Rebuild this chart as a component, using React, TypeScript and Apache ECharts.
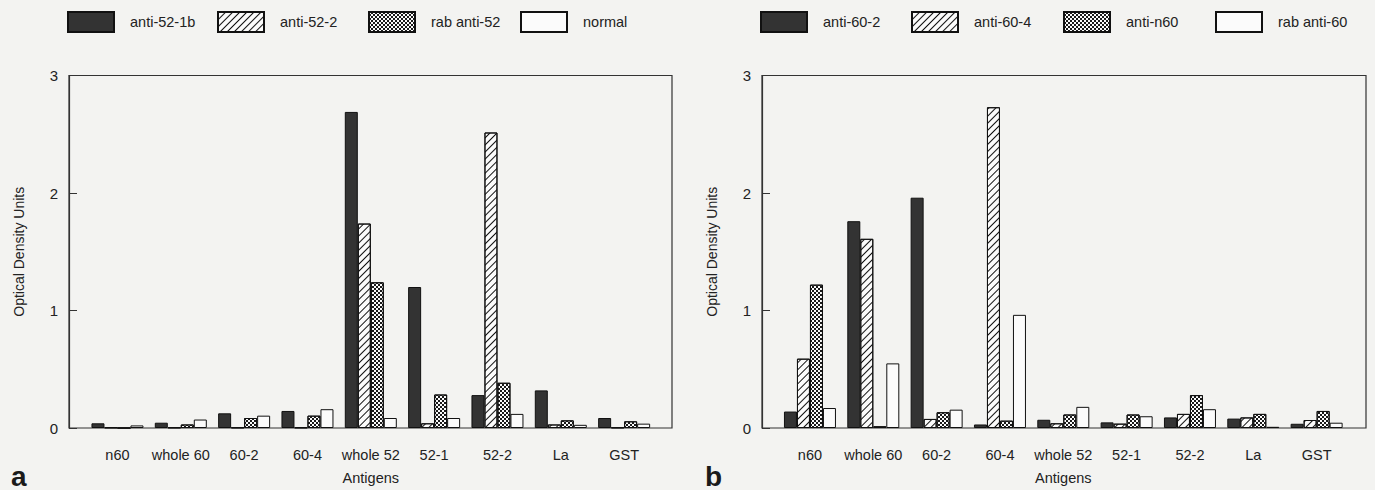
import React, { useEffect, useRef } from "react";
import * as echarts from "echarts";

const categories = ["n60", "whole 60", "60-2", "60-4", "whole 52", "52-1", "52-2", "La", "GST"];
const yTicks = [0, 1, 2, 3];

// panel a
const leftNames = ["anti-52-1b", "anti-52-2", "rab anti-52", "normal"];
const anti521b = [0.04, 0.045, 0.125, 0.145, 2.69, 1.2, 0.28, 0.32, 0.085];
const anti522 = [0.005, 0.005, 0.005, 0.005, 1.74, 0.04, 2.515, 0.03, 0.005];
const rabAnti52 = [0, 0.03, 0.085, 0.105, 1.24, 0.285, 0.385, 0.065, 0.057];
const normal = [0.022, 0.072, 0.105, 0.16, 0.085, 0.085, 0.12, 0.027, 0.037];

// panel b
const rightNames = ["anti-60-2", "anti-60-4", "anti-n60", "rab anti-60"];
const anti602 = [0.14, 1.76, 1.96, 0.03, 0.07, 0.048, 0.09, 0.08, 0.036];
const anti604 = [0.59, 1.61, 0.077, 2.73, 0.04, 0.037, 0.12, 0.09, 0.068];
const antiN60 = [1.22, 0.015, 0.134, 0.0625, 0.115, 0.115, 0.28, 0.12, 0.145];
const rabAnti60 = [0.17, 0.55, 0.156, 0.963, 0.18, 0.1, 0.16, 0.01, 0.045];

const FONT = "'Liberation Sans', Arial, sans-serif";
const INK = "#222222";
const BG = "#f3f3f1";

const styles = [
  { color: "#333333", borderColor: "#111", borderWidth: 1 },
  {
    color: "#fbfbfb",
    borderColor: "#111",
    borderWidth: 1,
    decal: {
      symbol: "rect",
      symbolSize: 1,
      color: "#111",
      dashArrayX: [1, 0],
      dashArrayY: [0.9, 3.1],
      rotation: -Math.PI / 4,
    },
  },
  {
    color: "#fbfbfb",
    borderColor: "#111",
    borderWidth: 1,
    decal: {
      symbol: "rect",
      symbolSize: 1,
      color: "#1a1a1a",
      dashArrayX: [
        [2, 2],
        [0, 2, 2, 0],
      ],
      dashArrayY: [2, 0],
      rotation: 0,
    },
  },
  { color: "#fbfbfb", borderColor: "#111", borderWidth: 1 },
];

export default function App() {
  const ref = useRef<HTMLDivElement>(null);

  useEffect(() => {
    document.body.style.margin = "0";
    const chart = echarts.init(ref.current!, undefined, { renderer: "svg" });

    const top = 75.5;
    const height = 352.5;
    const panels = [
      {
        frameLeft: 69,
        frameWidth: 603,
        barLeft: 85.8,
        names: leftNames,
        data: [anti521b, anti522, rabAnti52, normal],
        legendLefts: [67, 217, 368, 520],
      },
      {
        frameLeft: 762,
        frameWidth: 604,
        barLeft: 778.3,
        names: rightNames,
        data: [anti602, anti604, antiN60, rabAnti60],
        legendLefts: [760, 911, 1063, 1215],
      },
    ];

    const grid: any[] = [];
    const xAxis: any[] = [];
    const yAxis: any[] = [];
    const series: any[] = [];
    const legend: any[] = [];

    panels.forEach((p) => {
      const gFrame = grid.length;
      grid.push({
        left: p.frameLeft,
        top,
        width: p.frameWidth,
        height,
        show: true,
        borderColor: "#333",
        borderWidth: 1.2,
        backgroundColor: "transparent",
        containLabel: false,
      });
      const gBar = grid.length;
      grid.push({ left: p.barLeft, top, width: 570, height, containLabel: false });

      xAxis.push({ type: "value", gridIndex: gFrame, min: 0, max: 1, show: false });
      yAxis.push({
        type: "value",
        gridIndex: gFrame,
        min: yTicks[0],
        max: yTicks[yTicks.length - 1],
        interval: 1,
        name: "Optical Density Units",
        nameLocation: "middle",
        nameGap: 43,
        nameTextStyle: { fontFamily: FONT, fontSize: 14, color: INK },
        axisLine: { show: true, lineStyle: { color: "#333", width: 1.2 } },
        axisTick: { show: true, inside: true, length: 8, lineStyle: { color: "#333", width: 1 } },
        axisLabel: { fontFamily: FONT, fontSize: 15, color: INK, margin: 11 },
        splitLine: { show: false },
      });

      const xi = xAxis.length;
      xAxis.push({
        type: "category",
        gridIndex: gBar,
        data: categories,
        name: "Antigens",
        nameLocation: "middle",
        nameGap: 42,
        nameTextStyle: { fontFamily: FONT, fontSize: 14.5, color: INK },
        axisLine: { show: false },
        axisTick: { show: false },
        axisLabel: { fontFamily: FONT, fontSize: 14.5, color: INK, margin: 19, interval: 0 },
        splitLine: { show: false },
      });
      const yi = yAxis.length;
      yAxis.push({ type: "value", gridIndex: gBar, min: 0, max: 3, show: false, splitLine: { show: false } });

      p.names.forEach((name, si) => {
        series.push({
          type: "bar",
          name,
          xAxisIndex: xi,
          yAxisIndex: yi,
          data: p.data[si],
          barWidth: 13,
          barGap: "0%",
          itemStyle: styles[si],
        });
        legend.push({
          data: [name],
          left: p.legendLefts[si],
          top: 11,
          padding: 0,
          icon: "rect",
          itemWidth: 46,
          itemHeight: 20,
          selectedMode: false,
          textStyle: {
            fontFamily: FONT,
            fontSize: 14.5,
            color: INK,
            padding: [0, 0, 0, 11],
          },
        });
      });
    });

    chart.setOption({
      animation: false,
      backgroundColor: BG,
      grid,
      xAxis,
      yAxis,
      series,
      legend,
      graphic: [
        { type: "text", left: 11, top: 462, style: { text: "a", fontFamily: FONT, fontSize: 28, fontWeight: "bold", fill: "#1a1a1a" } },
        { type: "text", left: 705, top: 462, style: { text: "b", fontFamily: FONT, fontSize: 28, fontWeight: "bold", fill: "#1a1a1a" } },
      ],
    });

    return () => chart.dispose();
  }, []);

  return <div ref={ref} style={{ width: 1375, height: 490 }} />;
}
